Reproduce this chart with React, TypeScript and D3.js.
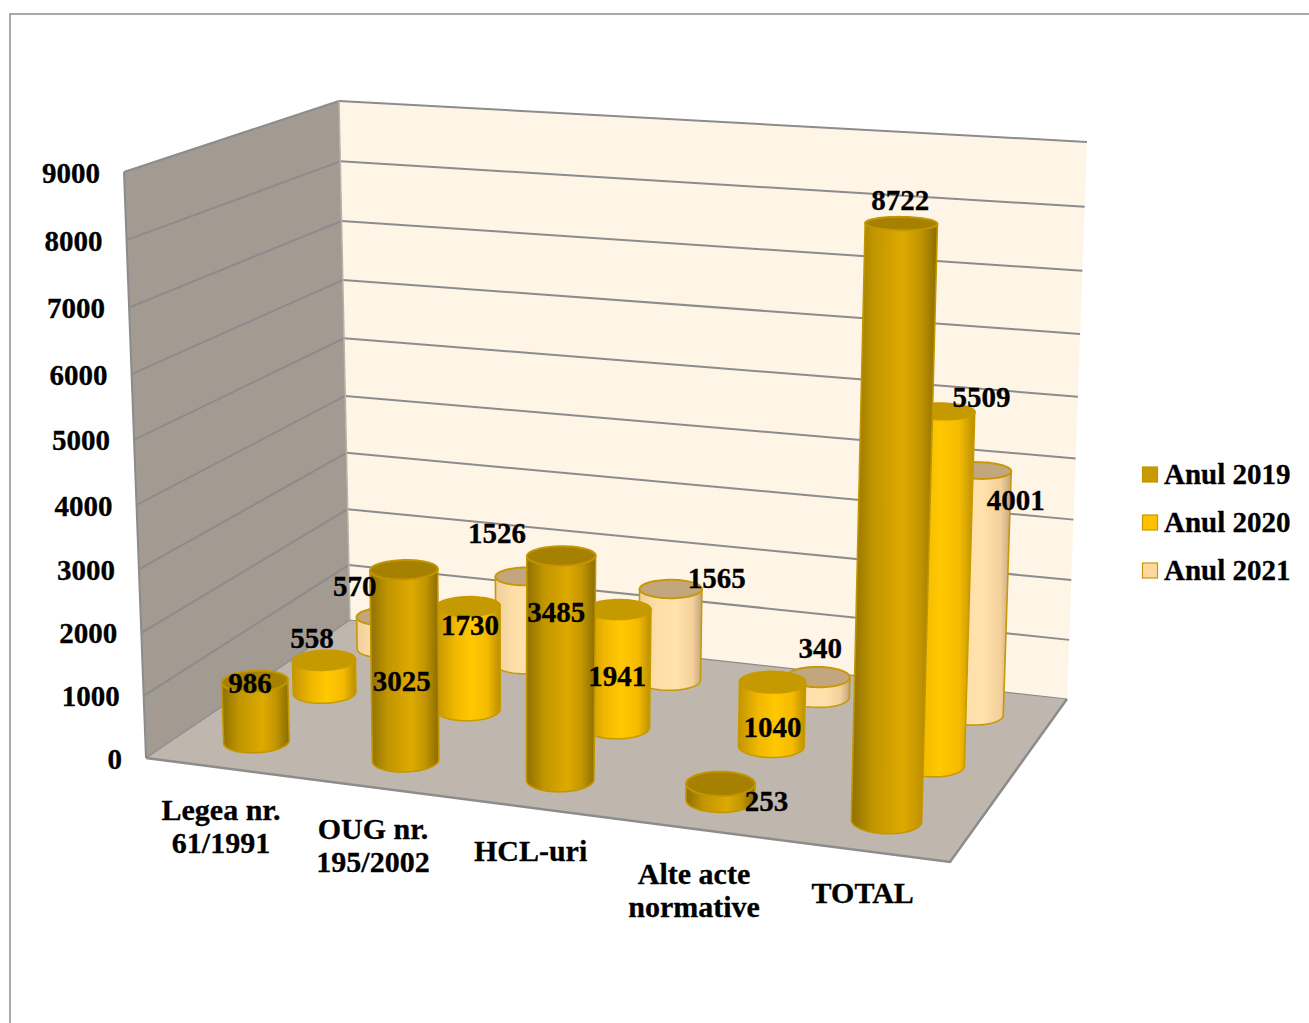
import React from "react";
import * as d3 from "d3";

const categories = [["Legea nr.", "61/1991"], ["OUG nr.", "195/2002"], ["HCL-uri"], ["Alte acte", "normative"], ["TOTAL"]];
const seriesNames = ["Anul 2019", "Anul 2020", "Anul 2021"];
const values2019 = [986, 3025, 3485, 253, 8722];
const values2020 = [558, 1730, 1941, 1040, 5509];
const values2021 = [570, 1526, 1565, 340, 4001];
const allValues = [values2019, values2020, values2021];
const yTicks = [0, 1000, 2000, 3000, 4000, 5000, 6000, 7000, 8000, 9000];

// layout nudges of data labels relative to top of bar (dx, dy)
const labelNudges = [
  [[-5, 2], [-2, 112], [-5, 57], [46, 18], [-1, -23]],
  [[-12, -22], [2, 19], [-1, 67], [0, 45], [41, -14]],
  [[-32, -30], [-29, -43], [46, -10], [2, -29], [37, 30]],
];
const catNudges = [1, 1, 1, 1, 0];
const catDy = [0, -1, 0, 2, -1];

const palette = [
  { stops: [[0, "#8f7000"], [0.25, "#c09500"], [0.6, "#deaa00"], [0.8, "#c39600"], [1, "#8a6b00"]], top: "#a68000", stroke: "#c29600", legend: "#c99a00" },
  { stops: [[0, "#c39500"], [0.3, "#f0b800"], [0.55, "#ffc800"], [0.8, "#f5bb00"], [1, "#b88f00"]], top: "#c49a00", stroke: "#c89a00", legend: "#ffc000" },
  { stops: [[0, "#f0cf9a"], [0.3, "#ffdfa8"], [0.6, "#ffe2ad"], [0.85, "#f4d09a"], [1, "#bfa57f"]], top: "#c2a67d", stroke: "#c9980a", legend: "#ffd8a0" },
];

type P = [number, number];
function homography(p0: P, p1: P, p2: P, p3: P) {
  const dx1 = p1[0] - p2[0], dx2 = p3[0] - p2[0], dx3 = p0[0] - p1[0] + p2[0] - p3[0];
  const dy1 = p1[1] - p2[1], dy2 = p3[1] - p2[1], dy3 = p0[1] - p1[1] + p2[1] - p3[1];
  const den = dx1 * dy2 - dx2 * dy1;
  const g = (dx3 * dy2 - dx2 * dy3) / den;
  const h = (dx1 * dy3 - dx3 * dy1) / den;
  const a = p1[0] - p0[0] + g * p1[0], b = p3[0] - p0[0] + h * p3[0], c = p0[0];
  const d = p1[1] - p0[1] + g * p1[1], e = p3[1] - p0[1] + h * p3[1], f = p0[1];
  return (u: number, v: number): P => {
    const w = g * u + h * v + 1;
    return [(a * u + b * v + c) / w, (d * u + e * v + f) / w];
  };
}

const floorH = homography([146, 758], [950, 862], [1067, 699], [350, 620]);
const ceilH = homography([124, 172], [967, 224], [1087, 142], [339, 101]);
const K = 0.95;
function project(u: number, v: number, t: number): P {
  const a = floorH(u, v), b = ceilH(u, v);
  const w0 = 1 - t, w1 = t * K, s = w0 + w1;
  return [(a[0] * w0 + b[0] * w1) / s, (a[1] * w0 + b[1] * w1) / s];
}

const hScale = d3.scaleLinear().domain([0, 9000]).range([0, 1]);
const uScale = d3.scaleBand<number>().domain(d3.range(5)).range([0, 1]);
const vScale = d3.scaleBand<number>().domain(d3.range(3)).range([0, 1]);
const RU = 0.04, RV = 0.069;
const line = d3.line();
const thetas = d3.range(0, 72).map((i) => (i / 72) * Math.PI * 2);

function ellipse(u: number, v: number, t: number): P[] {
  return thetas.map((th) => project(u + RU * Math.cos(th), v + RV * Math.sin(th), t));
}

function cylinder(u: number, v: number, t: number) {
  const bottom = ellipse(u, v, 0);
  const top = ellipse(u, v, t);
  const iL = d3.scan(bottom, (a, b) => a[0] - b[0])!;
  const iR = d3.scan(bottom, (a, b) => b[0] - a[0])!;
  const n = bottom.length;
  const arc = (from: number, to: number) => {
    const out: P[] = [];
    for (let i = from; ; i = (i + 1) % n) {
      out.push(bottom[i]);
      if (i === to) break;
    }
    return out;
  };
  const a1 = arc(iR, iL), a2 = arc(iL, iR);
  const lower = d3.mean(a1, (p) => p[1])! > d3.mean(a2, (p) => p[1])! ? a1 : a2.slice().reverse();
  const tL = d3.least(top, (p) => p[0])!;
  const tR = d3.greatest(top, (p) => p[0])!;
  const body: P[] = [tL, tR, ...lower];
  return { body: line(body) + "Z", top: line(top) + "Z", center: project(u, v, t) };
}

const FONT = "'Liberation Serif', 'Times New Roman', serif";
const GRID = "#8c8c8c";

export default function App() {
  const wallLeft = [project(0, 0, 0), project(0, 1, 0), project(0, 1, 1), project(0, 0, 1)] as P[];
  const wallBack = [project(0, 1, 0), project(1, 1, 0), project(1, 1, 1), project(0, 1, 1)] as P[];
  const floor = [project(0, 0, 0), project(1, 0, 0), project(1, 1, 0), project(0, 1, 0)] as P[];
  const drawOrder = [2, 1, 0];
  const bars = drawOrder.flatMap((s) =>
    allValues[s].map((val, i) => ({
      s, i, val,
      ...cylinder(uScale(i)! + uScale.bandwidth() / 2, vScale(s)! + vScale.bandwidth() / 2, hScale(val)),
    }))
  );
  return (
    <svg width={1309} height={1023} style={{ position: "absolute", left: 0, top: 0, display: "block" }} fontFamily={FONT}>
      <defs>
        {palette.map((p, s) => (
          <linearGradient key={s} id={`g${s}`} x1="0" x2="1" y1="0" y2="0">
            {p.stops.map(([o, c]) => <stop key={o as number} offset={o as number} stopColor={c as string} />)}
          </linearGradient>
        ))}
      </defs>
      <rect width={1309} height={1023} fill="#fff" />
      <path d="M10,1023V14H1309" fill="none" stroke="#8f8f8f" strokeWidth={1.5} />

      <path d={line(wallLeft) + "Z"} fill="#a39a92" />
      <path d={line(wallBack) + "Z"} fill="#fef5e7" />
      <path d={line(floor) + "Z"} fill="#bfb7ae" />

      {yTicks.map((tk) => {
        const t = hScale(tk);
        return (
          <g key={tk} fill="none" stroke={GRID} strokeWidth={tk === 0 ? 1.2 : 2}>
            <path d={line([project(0, 0, t), project(0, 1, t)])!} />
            <path d={line([project(0, 1, t), project(1, 1, t)])!} />
          </g>
        );
      })}
      <path d={line([project(0, 0, 0), project(0, 0, 1)])!} stroke={GRID} strokeWidth={2} fill="none" />
      <path d={line([project(0, 1, 0), project(0, 1, 1)])!} stroke="#b8b3ab" strokeWidth={1.5} fill="none" />
      <path d={line([project(0, 0, 0), project(1, 0, 0), project(1, 1, 0)])!} stroke={GRID} strokeWidth={2.5} fill="none" />

      {bars.map((b) => (
        <g key={`${b.s}-${b.i}`}>
          <path d={b.body} fill={`url(#g${b.s})`} stroke={palette[b.s].stroke} strokeWidth={1.6} />
          <path d={b.top} fill={palette[b.s].top} stroke={palette[b.s].stroke} strokeWidth={2} />
        </g>
      ))}

      <g fontWeight="bold" fontSize={29} fill="#000" stroke="#000" strokeWidth={0.3}>
        {yTicks.map((tk) => {
          const p = project(0, 0, hScale(tk));
          return <text key={tk} x={p[0] - 24} y={p[1] + 1} dy="0.33em" textAnchor="end">{tk}</text>;
        })}
        {bars.map((b) => {
          const [dx, dy] = labelNudges[b.s][b.i];
          return <text key={`${b.s}-${b.i}`} x={b.center[0] + dx} y={b.center[1] + dy} dy="0.33em" textAnchor="middle">{b.val}</text>;
        })}
        {categories.map((lines, i) => {
          const p = project(uScale(i)! + uScale.bandwidth() / 2, 0, 0);
          return lines.map((l, j) => (
            <text key={l} x={p[0] + catNudges[i]} y={p[1] + 43 + catDy[i] + j * 33} dy="0.33em" textAnchor="middle" fontSize={30}>{l}</text>
          ));
        })}
        {seriesNames.map((n, s) => (
          <g key={n} transform={`translate(0,${474 + s * 48})`}>
            <rect x={1142.5} y={-7} width={15} height={15} fill={palette[s].legend} stroke={palette[s].stroke} strokeWidth={1.2} />
            <text x={1164} y={0} dy="0.33em">{n}</text>
          </g>
        ))}
      </g>
    </svg>
  );
}
